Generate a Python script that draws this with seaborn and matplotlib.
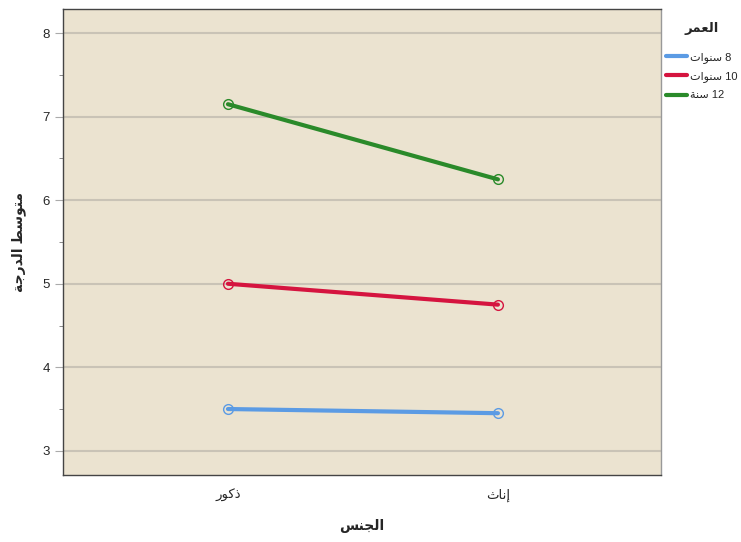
import pandas as pd
import matplotlib
matplotlib.use('Agg')
import matplotlib.pyplot as plt
import seaborn as sns
from matplotlib.ticker import MultipleLocator

# Arabic text written in presentation forms (visual order), since matplotlib does no shaping
genders = ['\uFEAD\uFEEE\uFEDB\uFEAB', '\uFE99\uFE8E\uFEE7\uFE87']   # ذكور , إناث
ages = ['\uFE95\uFE8D\uFEEE\uFEE8\uFEB3 8',
        '\uFE95\uFE8D\uFEEE\uFEE8\uFEB3 10',
        '\uFE94\uFEE8\uFEB3 12']                                     # 8 سنوات , 10 سنوات , 12 سنة
means_8 = [3.50, 3.45]
means_10 = [5.00, 4.75]
means_12 = [7.15, 6.25]

x_title = '\uFEB2\uFEE8\uFEA0\uFEDF\uFE8D'                             # الجنس
y_title = '\uFE94\uFE9F\uFEAD\uFEAA\uFEDF\uFE8D \uFEC2\uFEB3\uFEEE\uFE98\uFEE3'  # متوسط الدرجة
legend_title = '\uFEAE\uFEE4\uFECC\uFEDF\uFE8D'                       # العمر

colors = ['#5B9BE4', '#D5143F', '#2A8A2A']

rows = []
for age, vals in zip(ages, [means_8, means_10, means_12]):
    for g, v in zip(genders, vals):
        rows.append({'gender': g, 'age': age, 'score': v})
df = pd.DataFrame(rows)

sns.set_style('white')
plt.rcParams['font.family'] = ['Liberation Sans', 'DejaVu Sans']

fig = plt.figure(figsize=(7.41, 5.42), dpi=100)
ax = fig.add_axes([63/741, 1 - 475/542, (661-63)/741, (475-9)/542])
ax.set_facecolor('#EBE3D0')

sns.lineplot(data=df, x='gender', y='score', hue='age', palette=colors,
             marker='o', linewidth=3, ax=ax, legend=True)

# open circle markers in the line colour
for line in ax.lines:
    c = line.get_color()
    line.set_markersize(7)
    line.set_markerfacecolor('none')
    line.set_markeredgecolor(c)
    line.set_markeredgewidth(1.0)

ax.set_xlim(-0.611, 1.604)
ax.set_ylim(2.71, 8.29)
ax.yaxis.set_major_locator(MultipleLocator(1))
ax.yaxis.set_minor_locator(MultipleLocator(0.5))
ax.grid(axis='y', which='major', color='#C9C3B6', linewidth=1.5)
ax.set_axisbelow(True)
ax.tick_params(axis='y', which='major', length=6, color='#AAAAAA', labelsize=9.5, left=True)
ax.tick_params(axis='y', which='minor', length=3, color='#777777', left=True)
ax.tick_params(axis='x', length=0, labelsize=9.5, pad=10)
for s in ax.spines.values():
    s.set_color('#444444')
    s.set_linewidth(1.0)
ax.spines['right'].set_color('#999999')

ax.set_xlabel(x_title, fontsize=10, fontweight='bold', labelpad=12)
ax.set_ylabel(y_title, fontsize=10, fontweight='bold', labelpad=12)

leg = ax.legend(title=legend_title, loc='upper left', bbox_to_anchor=(1.002, 0.979),
                frameon=False, fontsize=8, handlelength=1.9, handletextpad=0.3,
                labelspacing=0.75, borderaxespad=0.0, borderpad=0.3, alignment='center')
leg.get_title().set_fontweight('bold')
leg.get_title().set_fontsize(9.5)
leg._legend_box.sep = 12
for line in leg.get_lines():
    line.set_marker('')
    line.set_linewidth(3)

fig.savefig('out.png', dpi=100)
